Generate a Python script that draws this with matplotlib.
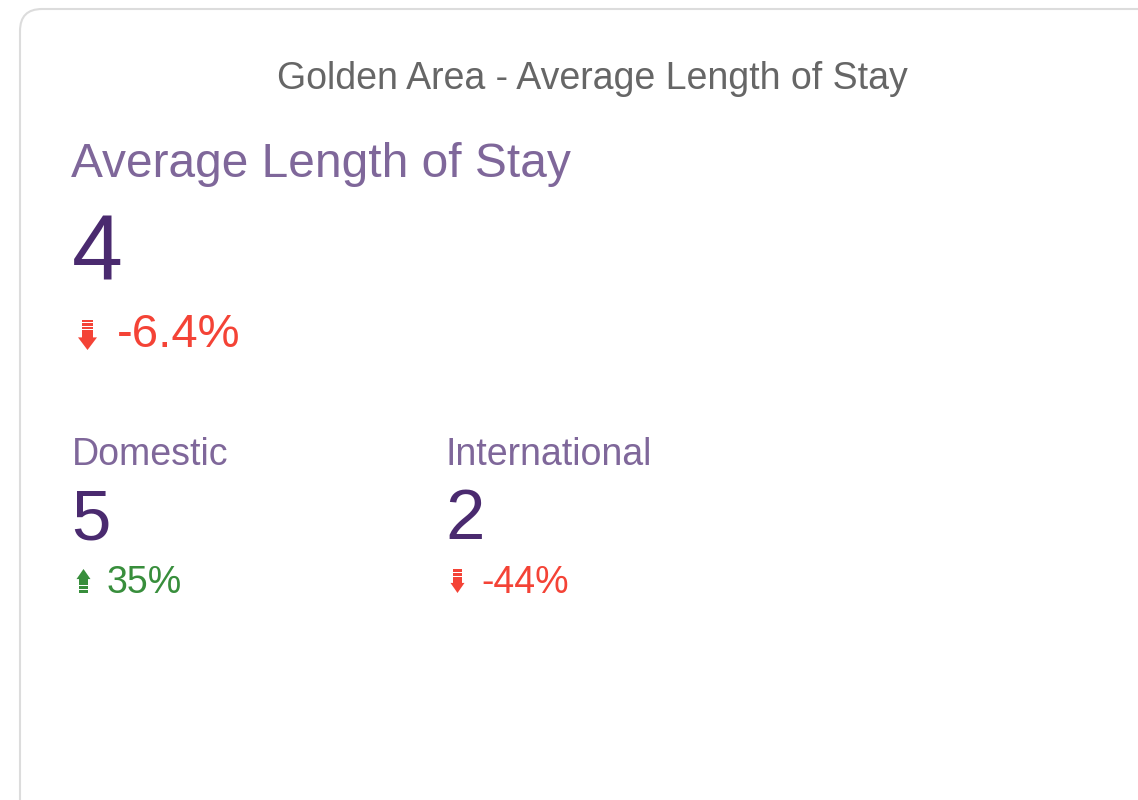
import matplotlib.pyplot as plt
from matplotlib.patches import FancyBboxPatch, Rectangle, Polygon

plt.rcParams['font.family'] = ['Liberation Sans', 'DejaVu Sans']

title = "Golden Area - Average Length of Stay"
main_label = "Average Length of Stay"
main_value = 4
main_change = -6.4
sub_labels = ["Domestic", "International"]
sub_values = [5, 2]
sub_changes = [35, -44]

LABEL = '#7f679a'
VALUE = '#4a2a6f'
RED = '#f44336'
GREEN = '#388e3c'

fig = plt.figure(figsize=(11.38, 8), dpi=100)
ax = fig.add_axes([0, 0, 1, 1])
ax.set_xlim(0, 1138)
ax.set_ylim(800, 0)
ax.axis('off')

# card outline (runs off right/bottom edge)
ax.add_patch(FancyBboxPatch((20, 9), 1160, 820, boxstyle="round,pad=0,rounding_size=22",
                            fc='white', ec='#dcdcdc', lw=1.5))


def arrow(cx, top, bottom, width, up, color, nbars=3):
    # little trend icon: arrow head + shaft + stacked bars at the tail
    h = bottom - top
    bw = width * 0.58
    tri = h * 0.42
    bars = h * 0.33
    step = bars / nbars
    if up:
        ax.add_patch(Polygon([(cx - width / 2, top + tri), (cx + width / 2, top + tri), (cx, top)],
                             closed=True, fc=color, ec='none'))
        ax.add_patch(Rectangle((cx - bw / 2, top + tri - 0.5), bw, h - tri - bars + 0.5,
                               fc=color, ec='none'))
        yb = bottom - bars
        for i in range(nbars):
            ax.add_patch(Rectangle((cx - bw / 2, yb + i * step + step * 0.25), bw, step * 0.75,
                                   fc=color, ec='none'))
    else:
        for i in range(nbars):
            ax.add_patch(Rectangle((cx - bw / 2, top + i * step), bw, step * 0.75,
                                   fc=color, ec='none'))
        ax.add_patch(Rectangle((cx - bw / 2, top + bars), bw, h - tri - bars + 0.5,
                               fc=color, ec='none'))
        ax.add_patch(Polygon([(cx - width / 2, bottom - tri), (cx + width / 2, bottom - tri), (cx, bottom)],
                             closed=True, fc=color, ec='none'))


def fmt(v):
    return f"{v:g}%"


ax.text(592, 89, title, ha='center', va='baseline', fontsize=27, color='#666666')

ax.text(71, 177, main_label, ha='left', va='baseline', fontsize=34.5, color=LABEL)
ax.text(72, 280, str(main_value), ha='left', va='baseline', fontsize=66, color=VALUE)
c = RED if main_change < 0 else GREEN
arrow(87.5, 320, 350, 19, main_change >= 0, c)
ax.text(117, 347, fmt(main_change), ha='left', va='baseline', fontsize=34, color=c)

xs = [72, 446]
for x, lab, val, ch in zip(xs, sub_labels, sub_values, sub_changes):
    c = RED if ch < 0 else GREEN
    ax.text(x, 465, lab, ha='left', va='baseline', fontsize=27, color=LABEL)
    ax.text(x - 1, 539, str(val), ha='left', va='baseline', fontsize=51, color=VALUE)
    arrow(x + 11.5, 569, 593, 14, ch >= 0, c, nbars=2)
    ax.text(x + 35, 593, fmt(ch), ha='left', va='baseline', fontsize=27, color=c)

fig.savefig('out.png', dpi=100)
